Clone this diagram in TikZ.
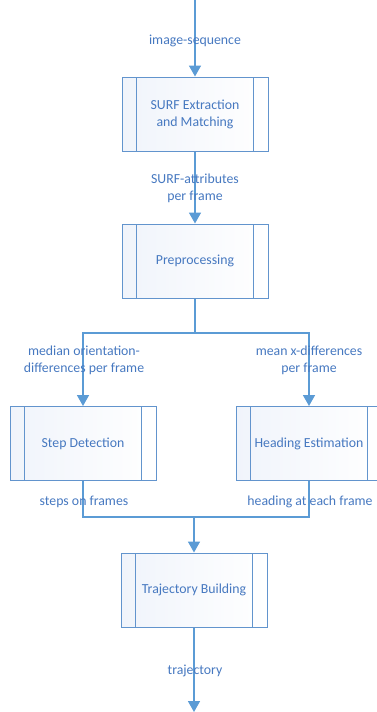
\documentclass[tikz,border=0pt]{standalone}
\usepackage{fontspec}
\setmainfont{Carlito}
\usetikzlibrary{arrows.meta}

\definecolor{lineblue}{RGB}{91,155,213}
\definecolor{boxblue}{RGB}{98,148,205}
\definecolor{textblue}{RGB}{70,120,192}
\definecolor{fillblue}{RGB}{240,244,251}

\tikzset{
    process/.style={draw=boxblue, line width=1pt, minimum width=146pt, minimum height=74pt,
        left color=fillblue, right color=white, text=textblue, align=center,
        font=\fontsize{13.8}{17}\selectfont,
        path picture={
            \draw[boxblue, line width=1pt]
                ([xshift=14.5pt]path picture bounding box.north west) -- ([xshift=14.5pt]path picture bounding box.south west)
                ([xshift=-14.5pt]path picture bounding box.north east) -- ([xshift=-14.5pt]path picture bounding box.south east);
        }},
    flowline/.style={draw=lineblue, line width=1.6pt},
    flow/.style={flowline, -{Triangle[length=11pt,width=12pt]}},
    flowlabel/.style={text=textblue, align=center, font=\fontsize{13.8}{17}\selectfont}
}

\begin{document}
\begin{tikzpicture}[x=1pt, y=-1pt]
    \useasboundingbox (0,0) rectangle (376,712);

    \node[process] (surf) at (195,114) {SURF Extraction\\and Matching};
    \node[process] (prep) at (195,261) {Preprocessing};
    \node[process] (step) at (83,443.5) {Step Detection};
    \node[process] (head) at (309,443.5) {Heading Estimation};
    \node[process] (traj) at (194,590) {Trajectory Building};

    \coordinate (start) at (195,0);
    \coordinate (split) at (195,333);
    \coordinate (join) at (194,517);
    \coordinate (end) at (194,712);

    \draw[flow] (start) -- (surf);
    \draw[flow] (surf) -- (prep);
    \draw[flowline] (prep) -- (split);
    \draw[flow] (split) -| (step);
    \draw[flow] (split) -| (head);
    \draw[flowline] (step) |- (join);
    \draw[flowline] (head) |- (join);
    \draw[flow] (join) -- (traj);
    \draw[flow] (traj) -- (end);

    \node[flowlabel] (seq) at (195,41) {image-sequence};
    \node[flowlabel] (attr) at (195,188.5) {SURF-attributes\\per frame};
    \node[flowlabel] (orient) at (84,360) {median orientation-\\differences per frame};
    \node[flowlabel] (xdiff) at (309,360) {mean x-differences\\per frame};
    \node[flowlabel] (steps) at (84,502) {steps on frames};
    \node[flowlabel] (heading) at (310,502) {heading at each frame};
    \node[flowlabel] (trajout) at (195,671) {trajectory};
\end{tikzpicture}
\end{document}
